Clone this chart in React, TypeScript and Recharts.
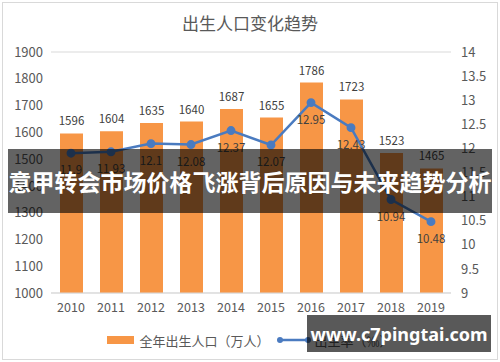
import { ComposedChart, Bar, Line, XAxis, YAxis, CartesianGrid, LabelList, Legend } from 'recharts';

const years = ['2010', '2011', '2012', '2013', '2014', '2015', '2016', '2017', '2018', '2019'];
const births = [1596, 1604, 1635, 1640, 1687, 1655, 1786, 1723, 1523, 1465];
const birthRate = [11.9, 11.93, 12.1, 12.08, 12.37, 12.07, 12.95, 12.43, 10.94, 10.48];
const leftTicks = [1000, 1100, 1200, 1300, 1400, 1500, 1600, 1700, 1800, 1900];
const rightTicks = [9, 9.5, 10, 10.5, 11, 11.5, 12, 12.5, 13, 13.5, 14];

const data = years.map((year, i) => ({ year, births: births[i], rate: birthRate[i] }));

const FONT = '"Noto Sans CJK SC", "Noto Sans", sans-serif';
const ORANGE = '#F79646';
const BLUE = '#4A7BC0';
const TEXT = '#595959';

const renderLegend = () => (
  <div
    style={{
      display: 'flex',
      justifyContent: 'center',
      alignItems: 'center',
      height: 20,
      fontSize: 13,
      color: TEXT,
      fontFamily: FONT,
    }}
  >
    <span style={{ display: 'inline-block', width: 27, height: 8, background: ORANGE, marginRight: 5 }} />
    <span>全年出生人口（万人）</span>
    <svg width={36} height={10} style={{ marginLeft: 6, marginRight: 3 }}>
      <line x1={4} y1={5} x2={32} y2={5} stroke={BLUE} strokeWidth={2.5} />
      <circle cx={4} cy={5} r={3} fill={BLUE} />
      <circle cx={32} cy={5} r={3} fill={BLUE} />
    </svg>
    <span>出生率（‰）</span>
  </div>
);

export default function App() {
  return (
    <div style={{ position: 'absolute', left: 0, top: 0, width: 500, height: 362, background: '#fff', fontFamily: FONT }}>
      <div
        style={{
          position: 'absolute',
          left: 2,
          top: 2,
          width: 494,
          height: 356,
          border: '1px solid #d9d9d9',
        }}
      />
      <div
        style={{
          position: 'absolute',
          left: 0,
          top: 10,
          width: 500,
          textAlign: 'center',
          fontSize: 17,
          color: TEXT,
        }}
      >
        出生人口变化趋势
      </div>
      <div style={{ position: 'absolute', left: 0, top: 0 }}>
        <ComposedChart width={500} height={362} data={data} margin={{ top: 52, right: 0, bottom: 0, left: 0 }}>
          <CartesianGrid vertical={false} stroke="#d9d9d9" />
          <XAxis
            dataKey="year"
            tickLine={false}
            axisLine={{ stroke: '#d9d9d9' }}
            tick={{ fill: TEXT, fontSize: 12.5, fontFamily: FONT }}
            tickMargin={4}
            height={49}
          />
          <YAxis
            yAxisId="left"
            domain={[1000, 1900]}
            ticks={leftTicks}
            interval={0}
            width={51}
            tickLine={false}
            axisLine={false}
            tick={{ fill: TEXT, fontSize: 13, fontFamily: FONT }}
          />
          <YAxis
            yAxisId="right"
            orientation="right"
            domain={[9, 14]}
            ticks={rightTicks}
            interval={0}
            width={49}
            tickLine={false}
            axisLine={false}
            tickMargin={4}
            tick={{ fill: TEXT, fontSize: 13, fontFamily: FONT }}
          />
          <Legend content={renderLegend} verticalAlign="bottom" wrapperStyle={{ left: 0, width: 500, bottom: 12 }} />
          <Bar yAxisId="left" dataKey="births" fill={ORANGE} barSize={23} isAnimationActive={false}>
            <LabelList dataKey="births" position="top" offset={8} fill="#404040" fontSize={11.5} fontFamily={FONT} />
          </Bar>
          <Line
            yAxisId="right"
            dataKey="rate"
            stroke={BLUE}
            strokeWidth={2.5}
            dot={{ r: 3.2, fill: BLUE, stroke: BLUE }}
            isAnimationActive={false}
          >
            <LabelList dataKey="rate" position="bottom" offset={13} fill="#404040" fontSize={11.5} fontFamily={FONT} />
          </Line>
        </ComposedChart>
      </div>
      <div
        style={{
          position: 'absolute',
          left: 8,
          top: 149,
          width: 484,
          height: 64,
          background: 'rgba(0,0,0,0.61)',
          display: 'flex',
          justifyContent: 'center',
          alignItems: 'center',
          color: '#fff',
          fontWeight: 'bold',
          fontSize: 23,
          whiteSpace: 'nowrap',
        }}
      >
        意甲转会市场价格飞涨背后原因与未来趋势分析
      </div>
      <div
        style={{
          position: 'absolute',
          left: 307,
          top: 315,
          width: 184,
          height: 37,
          background: 'rgba(0,0,0,0.65)',
          display: 'flex',
          justifyContent: 'center',
          alignItems: 'center',
          color: '#fff',
          fontWeight: 'bold',
          fontSize: 18,
          fontFamily: '"Noto Sans", sans-serif',
          whiteSpace: 'nowrap',
        }}
      >
        www.c7pingtai.com
      </div>
    </div>
  );
}
